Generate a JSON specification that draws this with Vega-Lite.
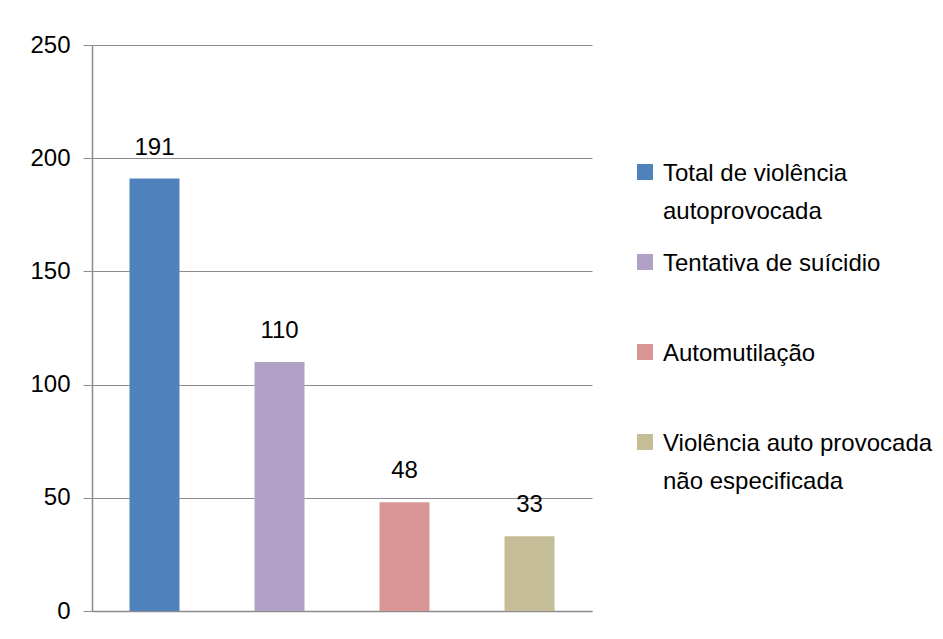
{
  "$schema": "https://vega.github.io/schema/vega-lite/v6.json",
  "autosize": {"type": "none"},
  "padding": {"left": 92, "top": 45, "right": 351, "bottom": 28},
  "width": 500,
  "height": 566,
  "background": "white",
  "config": {
    "font": "Liberation Sans",
    "view": {"stroke": null}
  },
  "data": {
    "values": [
      {"categoria": "Total de violência autoprovocada", "valor": 191},
      {"categoria": "Tentativa de suícidio", "valor": 110},
      {"categoria": "Automutilação", "valor": 48},
      {"categoria": "Violência auto provocada não especificada", "valor": 33}
    ]
  },
  "encoding": {
    "x": {
      "field": "categoria",
      "type": "nominal",
      "sort": null,
      "scale": {"paddingInner": 0.6, "paddingOuter": 0.3},
      "axis": {"labels": false, "ticks": false, "title": null, "domainColor": "#8c8c8c", "domainWidth": 1.5}
    },
    "y": {
      "field": "valor",
      "type": "quantitative",
      "scale": {"domain": [0, 250]},
      "axis": {
        "values": [0, 50, 100, 150, 200, 250],
        "title": null,
        "grid": true,
        "gridColor": "#8c8c8c",
        "gridWidth": 1.2,
        "domainColor": "#8c8c8c",
        "domainWidth": 1.5,
        "tickColor": "#8c8c8c",
        "tickSize": 9,
        "labelPadding": 13,
        "labelFontSize": 24,
        "labelColor": "#000000",
        "labelFont": "Liberation Sans"
      }
    }
  },
  "layer": [
    {
      "mark": {"type": "bar"},
      "encoding": {
        "color": {
          "field": "categoria",
          "type": "nominal",
          "sort": null,
          "scale": {"range": ["#4F81BD", "#B2A1C7", "#D99694", "#C4BD97"]},
          "legend": {
            "title": null,
            "orient": "none",
            "legendX": 541,
            "legendY": 115,
            "symbolType": "square",
            "symbolSize": 256,
            "symbolStrokeWidth": 0,
            "symbolOpacity": 1,
            "labelFontSize": 24,
            "labelFont": "Liberation Sans",
            "labelColor": "#000000",
            "labelBaseline": "top",
            "labelOffset": 6,
            "labelLimit": 400,
            "rowPadding": 26,
            "encode": {"labels": {"update": {"lineHeight": {"value": 38}, "dy": {"value": -10}}}},
            "labelExpr": "datum.label == 'Total de violência autoprovocada' ? ['Total de violência', 'autoprovocada'] : datum.label == 'Violência auto provocada não especificada' ? ['Violência auto provocada', 'não especificada'] : [datum.label, ' ']"
          }
        }
      }
    },
    {
      "mark": {"type": "text", "baseline": "alphabetic", "dy": -24, "fontSize": 24, "font": "Liberation Sans", "color": "#000000"},
      "encoding": {
        "text": {"field": "valor", "type": "quantitative"}
      }
    }
  ]
}
